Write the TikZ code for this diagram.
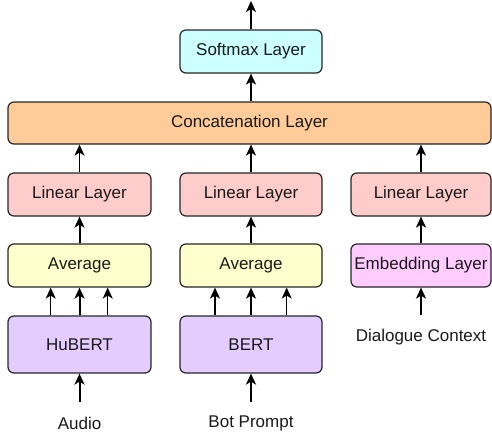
\documentclass[tikz,border=0pt]{standalone}
\usepackage{fontspec}
\setmainfont{Liberation Sans}
\usetikzlibrary{arrows.meta}
\definecolor{cSoft}{HTML}{CCFFFF}
\definecolor{cConc}{HTML}{FFCC99}
\definecolor{cLin}{HTML}{FFCCCC}
\definecolor{cAvg}{HTML}{FFFFCC}
\definecolor{cEmb}{HTML}{FFCCFF}
\definecolor{cBert}{HTML}{E5CCFF}
\tikzset{
  blk/.style={draw=black!85, line width=1.2pt, rounded corners=6pt, inner sep=0pt,
    font=\fontsize{17}{20}\selectfont, text=black!90},
  lbl/.style={inner sep=0pt, font=\fontsize{17}{20}\selectfont, text=black!90},
  arr/.style={-{Stealth[length=11pt,width=10pt,inset=3pt]}, line width=2pt, black},
  arrthin/.style={-{Stealth[length=11pt,width=10pt,inset=3pt]}, line width=1.5pt, black},
}
\begin{document}
\begin{tikzpicture}[x=1pt,y=-1pt]
\useasboundingbox (0,0) rectangle (492,434);
% top
\node[blk, fill=cSoft, minimum width=142pt, minimum height=43pt] (soft) at (251,51.5) {Softmax Layer};
\node[blk, fill=cConc, minimum width=483pt, minimum height=42pt] (conc) at (249.5,123) {Concatenation Layer};
\coordinate (out) at (251,1);
% linear layers
\node[blk, fill=cLin, minimum width=143pt, minimum height=43pt] (lin1) at (79.5,194.5) {Linear Layer};
\node[blk, fill=cLin, minimum width=142pt, minimum height=43pt] (lin2) at (251,194.5) {Linear Layer};
\node[blk, fill=cLin, minimum width=140pt, minimum height=43pt] (lin3) at (421,194.5) {Linear Layer};
% average / embedding
\node[blk, fill=cAvg, minimum width=143pt, minimum height=43pt] (avg1) at (79.5,265.5) {Average};
\node[blk, fill=cAvg, minimum width=142pt, minimum height=43pt] (avg2) at (251,265.5) {Average};
\node[blk, fill=cEmb, minimum width=140pt, minimum height=43pt] (emb) at (421,265.5) {Embedding Layer};
% encoders
\node[blk, fill=cBert, minimum width=143pt, minimum height=57pt] (hub) at (79.5,344.5) {HuBERT};
\node[blk, fill=cBert, minimum width=142pt, minimum height=57pt] (bert) at (251,344.5) {BERT};
% inputs
\node[lbl] (audio) at (79.5,423) {Audio};
\node[lbl] (bot) at (251,423) {Bot Prompt};
\node[lbl] (dial) at (421,337) {Dialogue Context};
\coordinate (audioT) at (79.5,402);
\coordinate (botT) at (251,402);
\coordinate (dialT) at (421,315);
% arrows
\draw[arr] (soft.north) -- (out);
\draw[arr] (conc.north -| soft) -- (soft.south);
\draw[arrthin] (lin1.north) -- (lin1.north |- conc.south);
\draw[arrthin] (lin2.north) -- (lin2.north |- conc.south);
\draw[arrthin] (lin3.north) -- (lin3.north |- conc.south);
\draw[arr] (avg1.north) -- (lin1.south);
\draw[arr] (avg2.north) -- (lin2.south);
\draw[arr] (emb.north) -- (lin3.south);
% hubert -> average
\draw[arrthin] ([xshift=-28.8pt]hub.north) -- ([xshift=-28.8pt]avg1.south);
\draw[arr] (hub.north) -- (avg1.south);
\draw[arrthin] ([xshift=28.2pt]hub.north) -- ([xshift=28.2pt]avg1.south);
% bert -> average
\draw[arrthin] ([xshift=-36pt]bert.north) -- ([xshift=-36pt]avg2.south);
\draw[arr] (bert.north) -- (avg2.south);
\draw[arrthin] ([xshift=35.7pt]bert.north) -- ([xshift=35.7pt]avg2.south);
% inputs
\draw[arr] (audioT) -- (hub.south);
\draw[arr] (botT) -- (bert.south);
\draw[arr] (dialT) -- (emb.south);
\end{tikzpicture}
\end{document}
